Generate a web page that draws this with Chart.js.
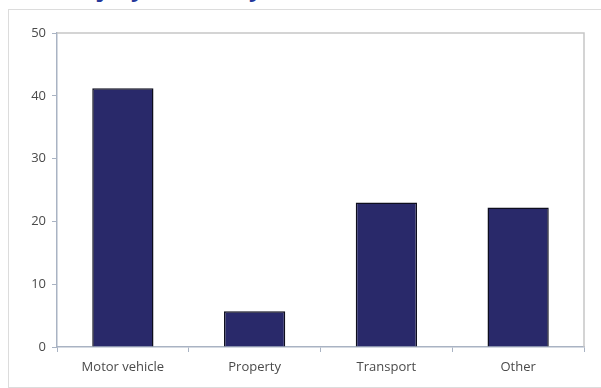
<!DOCTYPE html>
<html>
<head>
<meta charset="utf-8">
<script src="https://cdn.jsdelivr.net/npm/chart.js@4"></script>
<style>
  html, body { margin: 0; padding: 0; background: #fff; overflow: hidden; }
  #wrap { position: relative; width: 601px; height: 388px; }
  #frame { position: absolute; left: 8px; top: 9px; width: 610px; height: 377px; border: 1px solid #dcdcdc; }
  #title { position: absolute; left: 0; width: 601px; top: -29px; text-align: center;
           font: bold 23px "Open Sans", sans-serif; color: #25389a; white-space: nowrap; }
  #chart { position: absolute; left: 0; top: 0; }
</style>
</head>
<body>
<div id="wrap">
  <div id="title">Injury deaths by cause, Australia (2011)</div>
  <div id="frame"></div>
  <canvas id="chart" width="601" height="388"></canvas>
</div>
<script>
const categories = ['Motor vehicle', 'Property', 'Transport', 'Other'];
const values = [41.2, 5.7, 23.0, 22.2];
const yTicks = [0, 10, 20, 30, 40, 50];

const axisColor = '#a9b3c3';

// light grey border round the plot area (top and right sides)
const plotBorder = {
    id: 'plotBorder',
    beforeDatasetsDraw(chart) {
        const { ctx, chartArea: a } = chart;
        ctx.save();
        ctx.strokeStyle = '#c6c6c6';
        ctx.lineWidth = 1.5;
        ctx.beginPath();
        ctx.moveTo(a.left, a.top);
        ctx.lineTo(a.right, a.top);
        ctx.lineTo(a.right, a.bottom);
        ctx.stroke();
        ctx.restore();
    }
};

new Chart(document.getElementById('chart').getContext('2d'), {
    type: 'bar',
    data: {
        labels: categories,
        datasets: [{
            data: values,
            backgroundColor: '#29296a',
            borderColor: '#0e0e1e',
            borderWidth: 1.5,
            barPercentage: 0.465,
            categoryPercentage: 1,
        }],
    },
    options: {
        responsive: false,
        animation: false,
        layout: { padding: { left: 0, top: 33, right: 17, bottom: 0 } },
        plugins: {
            legend: { display: false },
            tooltip: { enabled: false },
        },
        scales: {
            x: {
                offset: true,
                grid: {
                    offset: true,
                    drawOnChartArea: false,
                    tickLength: 5,
                    color: axisColor,
                },
                border: { color: axisColor, width: 1.5 },
                ticks: {
                    color: '#4a4a4a',
                    font: { family: 'Open Sans', size: 13 },
                    padding: 7,
                    maxRotation: 0,
                },
                afterFit: scale => { scale.height = 41; },
            },
            y: {
                min: 0,
                max: 50,
                afterBuildTicks: scale => { scale.ticks = yTicks.map(v => ({ value: v })); },
                grid: {
                    drawOnChartArea: false,
                    tickLength: 5,
                    color: axisColor,
                },
                border: { color: axisColor, width: 1.5 },
                ticks: {
                    color: '#4a4a4a',
                    font: { family: 'Open Sans', size: 13 },
                    padding: 6,
                },
                afterFit: scale => { scale.width = 57; },
            },
        },
    },
    plugins: [plotBorder],
});
</script>
</body>
</html>
